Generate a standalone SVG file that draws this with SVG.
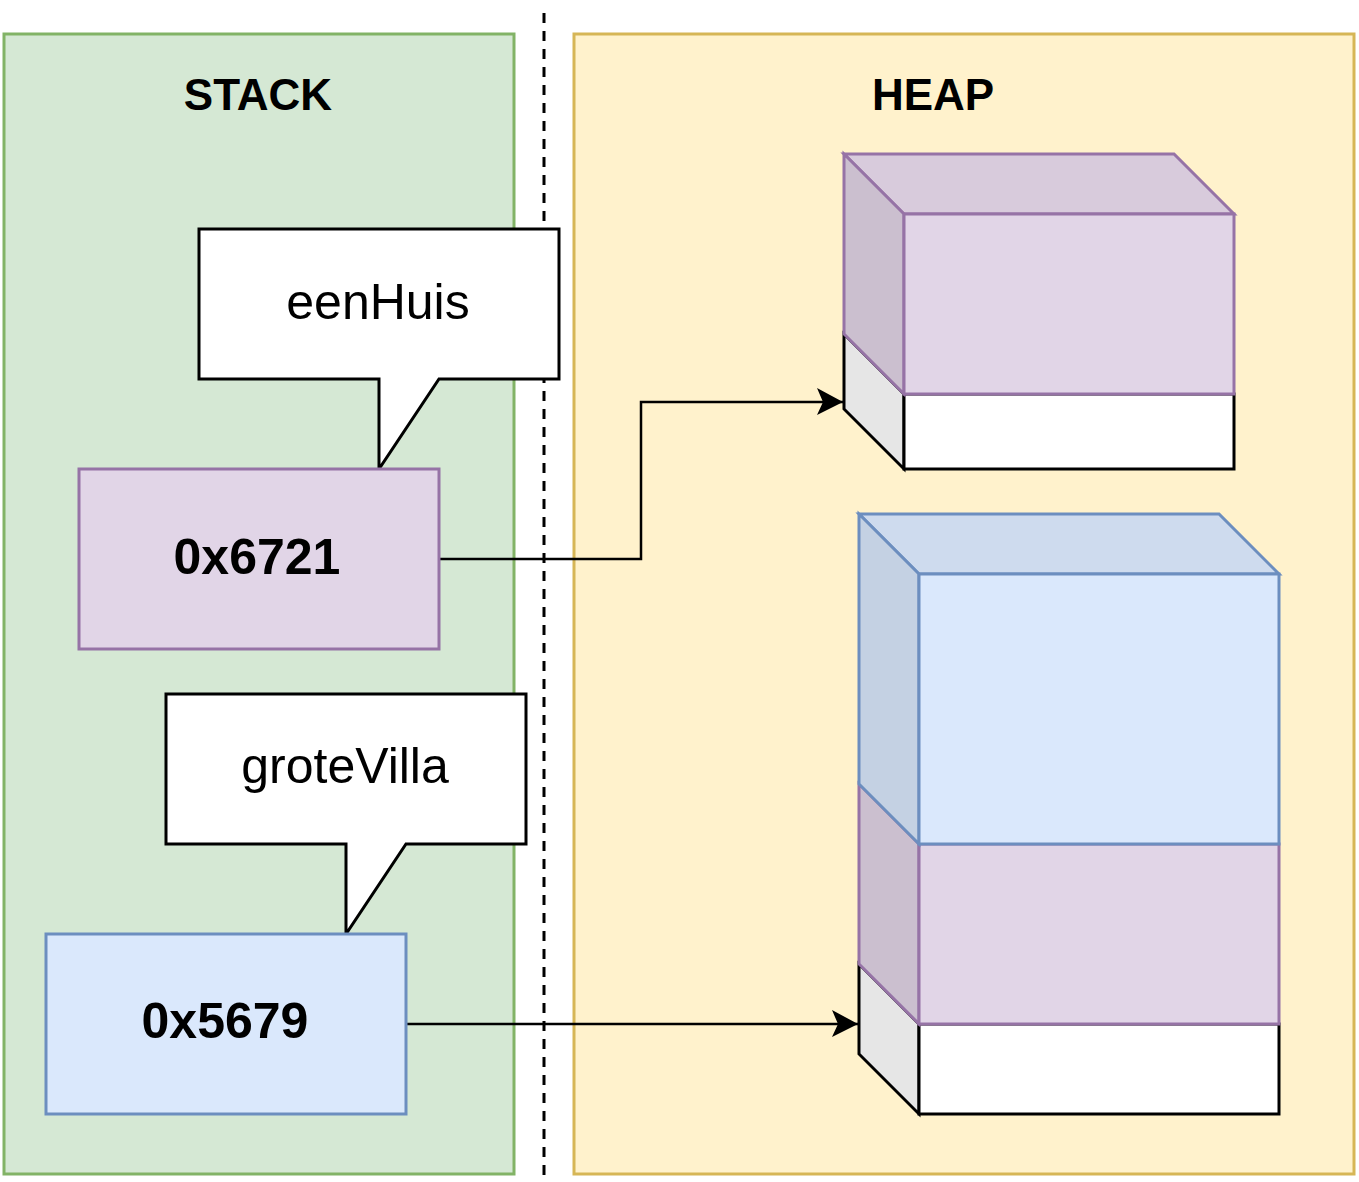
<svg xmlns="http://www.w3.org/2000/svg" width="1359" height="1182" viewBox="0 0 1359 1182">
<style>
.title{font-family:"Liberation Sans",Arial,sans-serif;font-weight:bold;font-size:44px;fill:#000;text-anchor:middle}
.lbl{font-family:"Liberation Sans",Arial,sans-serif;font-size:50px;fill:#000;text-anchor:middle}
.addr{font-family:"Liberation Sans",Arial,sans-serif;font-weight:bold;font-size:50px;fill:#000;text-anchor:middle}
.callout{fill:#fff;stroke:#000;stroke-width:3}
.purple{stroke:#9673a6;stroke-width:3}
.blue{stroke:#6c8ebf;stroke-width:3}
.white{stroke:#000;stroke-width:3}
.conn{fill:none;stroke:#000;stroke-width:2.5}
</style>
<defs>
<marker id="arr" markerUnits="userSpaceOnUse" markerWidth="30" markerHeight="30" viewBox="-28 -15 30 30" refX="0" refY="0" orient="auto">
<path d="M0,0 L-26,-14 L-20,0 L-26,13 Z" fill="#000"/>
</marker>
</defs>
<rect width="1359" height="1182" fill="#fff"/>
<g id="stack">
<rect x="4" y="34" width="510" height="1140" fill="#d5e8d4" stroke="#82b366" stroke-width="3"/>
<text class="title" x="258" y="110">STACK</text>
</g>
<g id="heap">
<rect x="574" y="34" width="780" height="1140" fill="#fff2cc" stroke="#d6b656" stroke-width="3"/>
<text class="title" x="933" y="110">HEAP</text>
</g>
<g id="divider">
<line x1="544" y1="13" x2="544" y2="1175" stroke="#000" stroke-width="3" stroke-dasharray="10 8"/>
</g>
<g id="heapObj1">
<g class="white">
<polygon points="844,334 904,394 904,469 844,409" fill="#e6e6e6"/>
<rect x="904" y="394" width="330" height="75" fill="#fff"/>
</g>
<g class="purple">
<polygon points="844,154 1174,154 1234,214 904,214" fill="#d8cbdc"/>
<polygon points="844,154 904,214 904,394 844,334" fill="#cbbfcf"/>
<rect x="904" y="214" width="330" height="180" fill="#e1d5e7"/>
</g>
</g>
<g id="heapObj2">
<g class="white">
<polygon points="859,964 919,1024 919,1114 859,1054" fill="#e6e6e6"/>
<rect x="919" y="1024" width="360" height="90" fill="#fff"/>
</g>
<g class="purple">
<polygon points="859,784 919,844 919,1024 859,964" fill="#cbbfcf"/>
<rect x="919" y="844" width="360" height="180" fill="#e1d5e7"/>
</g>
<g class="blue">
<polygon points="859,514 1219,514 1279,574 919,574" fill="#cedbee"/>
<polygon points="859,514 919,574 919,844 859,784" fill="#c4d1e3"/>
<rect x="919" y="574" width="360" height="270" fill="#dae8fc"/>
</g>
</g>
<g id="connectors">
<path class="conn" d="M439,559 H641 V402 H843" marker-end="url(#arr)"/>
<path class="conn" d="M406,1024 H858" marker-end="url(#arr)"/>
</g>
<g id="eenHuis">
<path class="callout" d="M199,229 H559 V379 H439 L379,469 V379 H199 Z"/>
<text class="lbl" x="378" y="319">eenHuis</text>
</g>
<g id="addr1">
<rect x="79" y="469" width="360" height="180" fill="#e1d5e7" class="purple"/>
<text class="addr" x="257" y="574">0x6721</text>
</g>
<g id="groteVilla">
<path class="callout" d="M166,694 H526 V844 H406 L346,934 V844 H166 Z"/>
<text class="lbl" x="345" y="783">groteVilla</text>
</g>
<g id="addr2">
<rect x="46" y="934" width="360" height="180" fill="#dae8fc" class="blue"/>
<text class="addr" x="225" y="1038">0x5679</text>
</g>
</svg>
